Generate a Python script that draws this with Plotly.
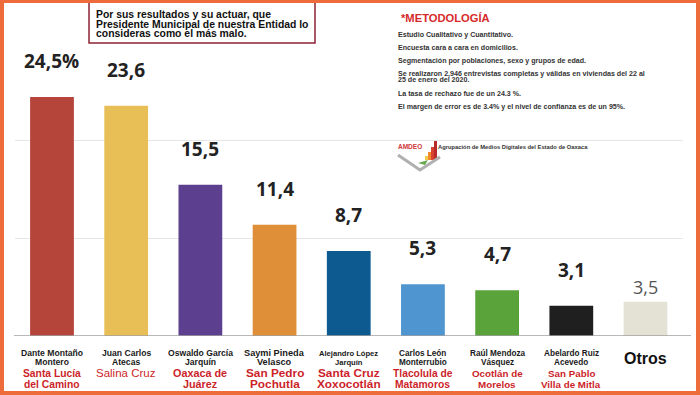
import plotly.graph_objects as go

W, H = 700, 395

# ---------------- data ----------------
names = ["Dante Montaño<br>Montero", "Juan Carlos<br>Atecas", "Oswaldo García<br>Jarquín",
         "Saymi Pineda<br>Velasco", "Alejandro López<br>Jarquín", "Carlos León<br>Monterrubio",
         "Raúl Mendoza<br>Vásquez", "Abelardo Ruiz<br>Acevedo", "Otros"]
places = ["Santa Lucía<br>del Camino", "Salina Cruz", "Oaxaca de<br>Juárez", "San Pedro<br>Pochutla",
          "Santa Cruz<br>Xoxocotlán", "Tlacolula de<br>Matamoros", "Ocotlán de<br>Morelos",
          "San Pablo<br>Villa de Mitla", ""]
values = [24.5, 23.6, 15.5, 11.4, 8.7, 5.3, 4.7, 3.1, 3.5]
value_labels = ["24,5%", "23,6", "15,5", "11,4", "8,7", "5,3", "4,7", "3,1", "3,5"]
grid_vals = [10, 20]

title_lines = ["Por sus resultados y su actuar, que",
               "Presidente Municipal de nuestra Entidad lo",
               "consideras como el más malo."]
metodo_title = "*METODOLOGÍA"
metodo_lines = ["Estudio Cualitativo y Cuantitativo.",
                "Encuesta cara a cara en domicilios.",
                "Segmentación por poblaciones, sexo y grupos de edad.",
                "Se realizaron 2,946 entrevistas completas y válidas en viviendas del 22 al",
                "25 de enero del 2020.",
                "La tasa de rechazo fue de un 24.3 %.",
                "El margen de error es de 3.4% y el nivel de confianza es de un 95%."]
logo_name = "AMDEO"
logo_text = "Agrupación de Medios Digitales del Estado de Oaxaca"

# ---------------- styles ----------------
colors = ["#b5443a", "#e8bf56", "#5c3f8f", "#df8f37", "#0d5a91", "#4f96d1",
          "#5aa23a", "#1f1f1f", "#e4e2d5"]
name_sizes = [8.6, 8.6, 8.6, 9.2, 7.6, 8.2, 8.2, 8.2, 16]
place_sizes = [10.3, 11.5, 10.8, 11.8, 11.8, 10.3, 9.8, 9.8, 10]
place_bold = [True, False, True, True, True, True, True, True, True]

def px(x):
    return x / W

def py(y):
    return (H - y) / H

x_idx = list(range(len(values)))

fig = go.Figure()
fig.add_trace(go.Bar(x=x_idx, y=values, marker=dict(color=colors, line=dict(width=0)),
                     width=0.59, hoverinfo="skip"))

ann = []
# value labels
for i, (v, t) in enumerate(zip(values, value_labels)):
    last = (i == len(values) - 1)
    ann.append(dict(x=i, y=v, xref="x", yref="y", text=t if last else "<b>%s</b>" % t,
                    showarrow=False, yanchor="middle", yshift=15 if last else 36,
                    font=dict(family="Open Sans, Arial", size=18 if last else 19,
                              color="#555555" if last else "#222222")))

# category labels
for i, (nm, pl) in enumerate(zip(names, places)):
    nlines = nm.split("<br>")
    if len(nlines) == 1:
        ann.append(dict(x=i, y=py(358), xref="x", yref="paper", text="<b>%s</b>" % nlines[0],
                        showarrow=False, yanchor="middle",
                        font=dict(family="Arial", size=name_sizes[i], color="#111111")))
    else:
        for k, ln in enumerate(nlines):
            ann.append(dict(x=i, y=py(353 + 9 * k), xref="x", yref="paper",
                            text="<b>%s</b>" % ln, showarrow=False, yanchor="middle",
                            font=dict(family="Arial", size=name_sizes[i], color="#1a1a1a")))
    if pl:
        for k, ln in enumerate(pl.split("<br>")):
            ann.append(dict(x=i, y=py(373 + 11 * k), xref="x", yref="paper",
                            text=("<b>%s</b>" % ln) if place_bold[i] else ln,
                            showarrow=False, yanchor="middle",
                            font=dict(family="Arial", size=place_sizes[i], color="#cc1f2a")))

# title box text
for k, ln in enumerate(title_lines):
    ann.append(dict(x=px(94), y=py(15 + 9.3 * k), xref="paper", yref="paper",
                    text="<b>%s</b>" % ln, showarrow=False, xanchor="left", yanchor="middle",
                    font=dict(family="Arial", size=10.4, color="#111111")))

# methodology
ann.append(dict(x=px(399), y=py(17.5), xref="paper", yref="paper", text="<b>%s</b>" % metodo_title,
                showarrow=False, xanchor="left", yanchor="middle",
                font=dict(family="Arial", size=11.2, color="#d62a2a")))
m_y = [35, 48, 61, 74, 80.5, 94, 107]
for ln, yy in zip(metodo_lines, m_y):
    ann.append(dict(x=px(396), y=py(yy), xref="paper", yref="paper", text="<b>%s</b>" % ln,
                    showarrow=False, xanchor="left", yanchor="middle",
                    font=dict(family="Arial", size=7.1, color="#333333")))
ann.append(dict(x=px(396), y=py(146), xref="paper", yref="paper", text="<b>%s</b>" % logo_name,
                showarrow=False, xanchor="left", yanchor="middle",
                font=dict(family="Arial", size=6.5, color="#d0373a")))
ann.append(dict(x=px(436), y=py(146.5), xref="paper", yref="paper", text="<b>%s</b>" % logo_text,
                showarrow=False, xanchor="left", yanchor="middle",
                font=dict(family="Arial", size=5.8, color="#333333")))

shapes = []
# axis baseline
shapes.append(dict(type="line", xref="paper", yref="y", x0=px(14), x1=px(691), y0=0, y1=0,
                   line=dict(color="#a0a0a0", width=1.5)))
# title box
shapes.append(dict(type="rect", xref="paper", yref="paper", x0=px(89), x1=px(315),
                   y0=py(43), y1=py(-2), fillcolor="white", line=dict(color="#8e2335", width=1.5),
                   layer="below"))
# logo: small rising bars + grey chevron
logo_bars = [(425, 428, 156, "#f2c94c"), (428, 431, 152, "#ef8a2f"), (431, 434, 147, "#d8432f"),
             (434, 437, 141, "#b82a2a")]
for x0, x1, y0, c in logo_bars:
    shapes.append(dict(type="rect", xref="paper", yref="paper", x0=px(x0), x1=px(x1),
                       y0=py(160), y1=py(y0), fillcolor=c, line=dict(width=0)))
shapes.append(dict(type="path", xref="paper", yref="paper",
                   path="M %f %f L %f %f L %f %f" % (px(398), py(155), px(420), py(170), px(440), py(157)),
                   line=dict(color="#b0b0b0", width=3)))
shapes.append(dict(type="path", xref="paper", yref="paper",
                   path="M %f %f L %f %f L %f %f" % (px(418), py(163), px(425), py(165), px(428), py(160)),
                   fillcolor="#6aa84f", line=dict(width=0)))
# orange frame
oc = "#ee6c3c"
for x0, x1, y0, y1 in [(0, 4, 0, 395), (696, 700, 0, 395), (0, 700, 0, 3), (0, 700, 391, 395)]:
    shapes.append(dict(type="rect", xref="paper", yref="paper", x0=px(x0), x1=px(x1),
                       y0=py(y1), y1=py(y0), fillcolor=oc, line=dict(width=0)))

fig.update_layout(
    width=W, height=H, margin=dict(l=0, r=0, t=0, b=0),
    paper_bgcolor="white", plot_bgcolor="white", showlegend=False,
    xaxis=dict(range=[-0.5, 8.5], domain=[px(14.9), px(682.6)], showticklabels=False,
               showgrid=False, zeroline=False, showline=False, fixedrange=True),
    yaxis=dict(range=[0, 30], domain=[py(336), py(336 - 30 * 9.76)], tickvals=grid_vals,
               showticklabels=False, showgrid=True, gridcolor="#e6e6e6", gridwidth=1,
               zeroline=False, showline=False, fixedrange=True),
    annotations=ann, shapes=shapes,
)
fig.write_html("out.html", config={"displayModeBar": False},
               post_script="document.body.style.margin='0';document.body.style.padding='0';")
